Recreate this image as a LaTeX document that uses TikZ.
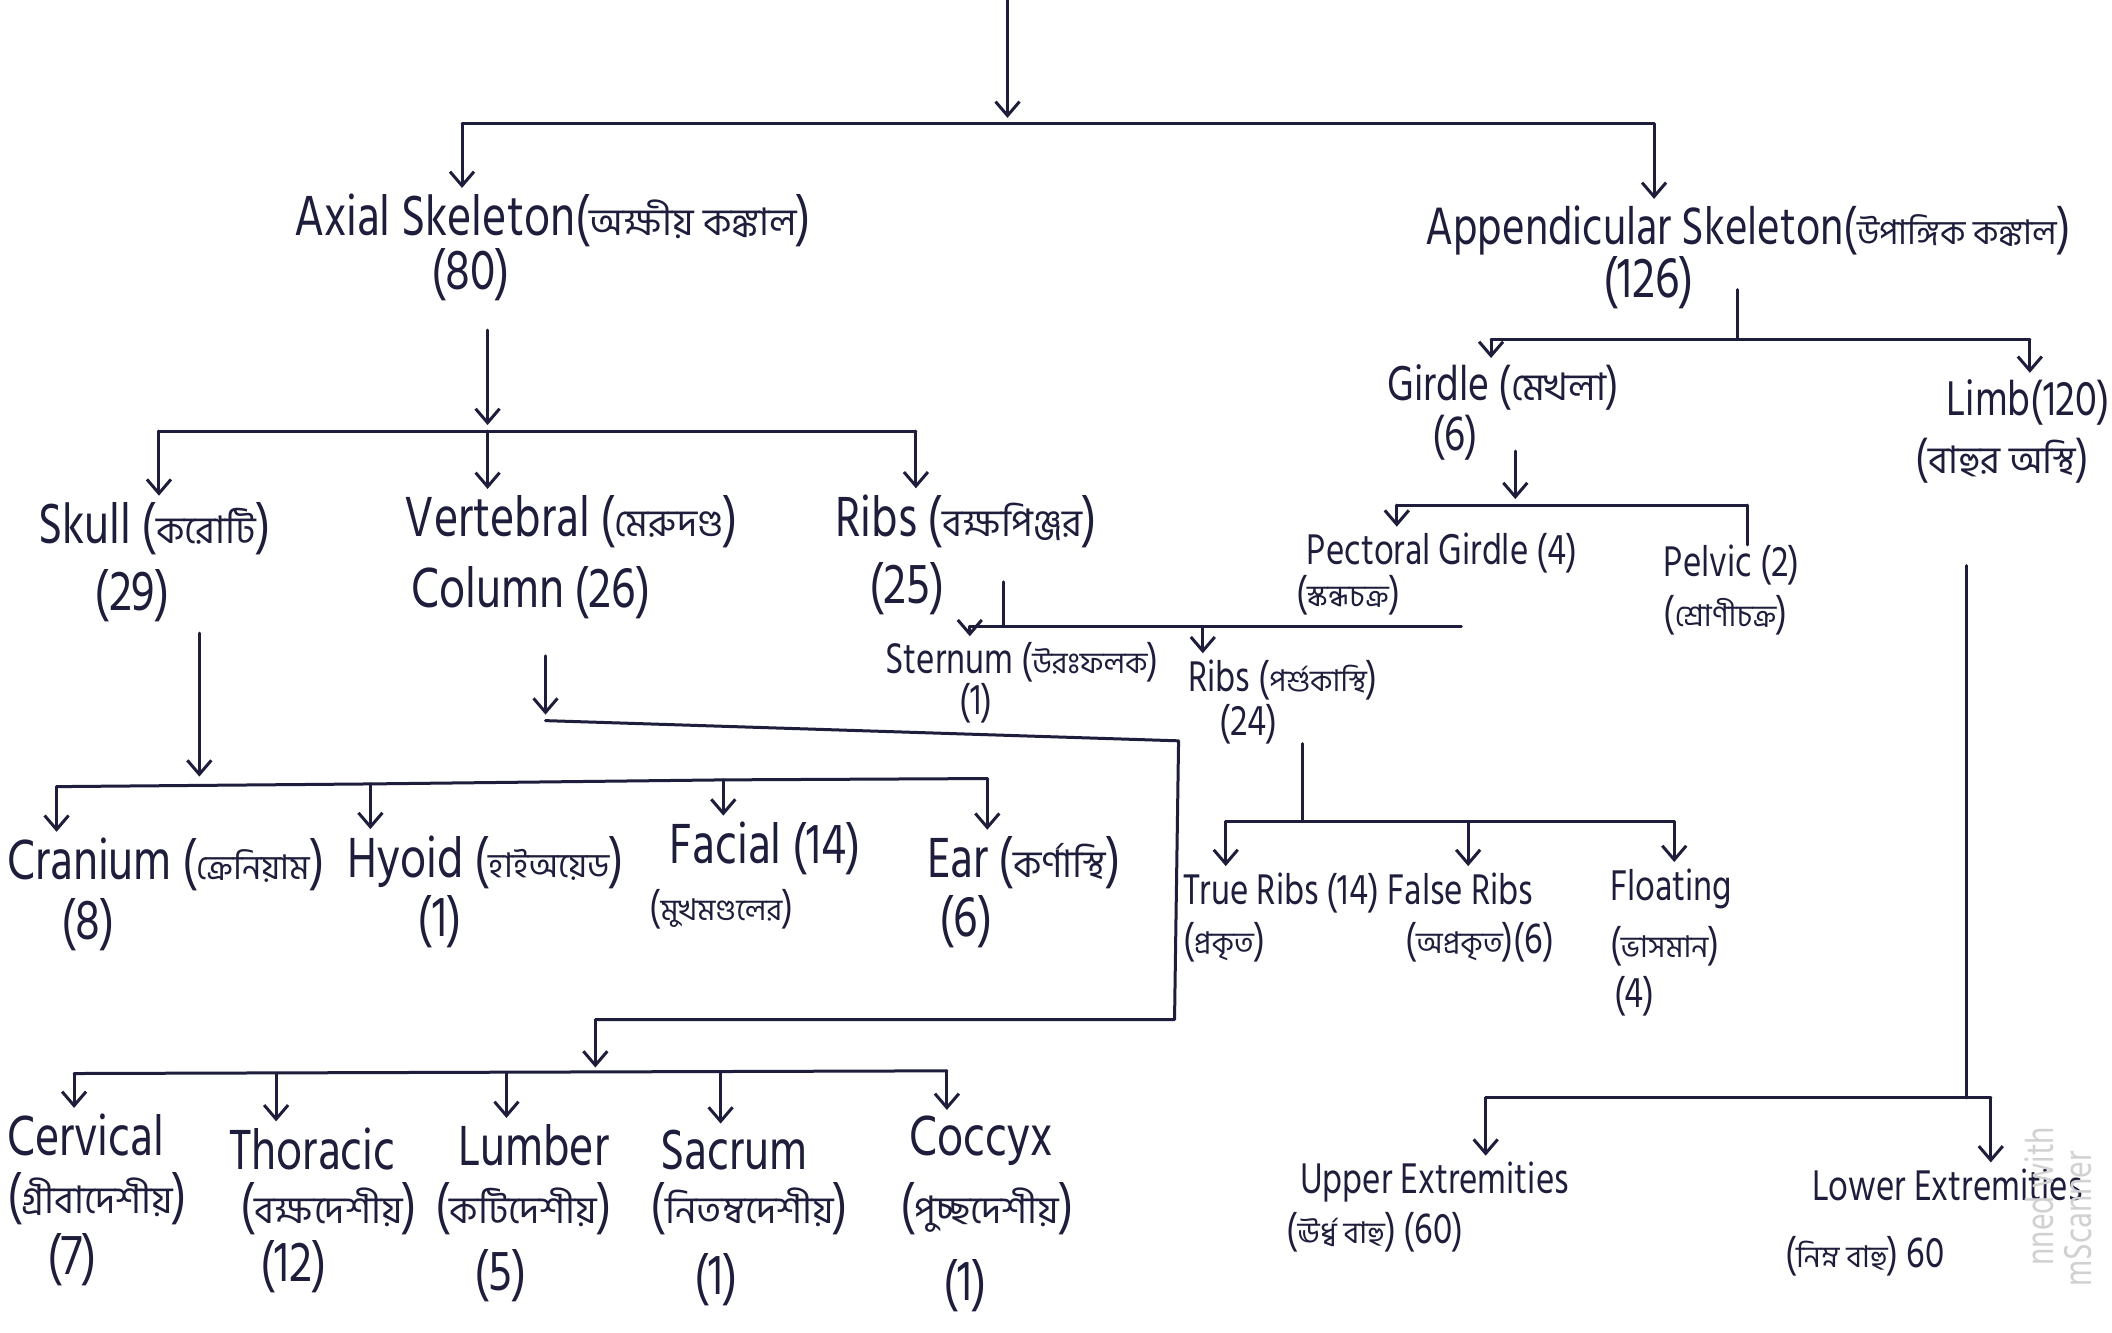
\documentclass[tikz,border=0pt]{standalone}
\usepackage{fontspec}
\newfontfamily\latf[FakeStretch=0.8]{Hind Siliguri}
\newfontfamily\bnf[Script=Bengali]{Hind Siliguri}
\usetikzlibrary{arrows.meta}
\definecolor{ink}{HTML}{1E1E3C}
\newcommand{\bng}[1]{{\bnf\fontsize{19}{22}\selectfont #1}}
\newcommand{\bnm}[1]{{\bnf\fontsize{17}{20}\selectfont #1}}
\newcommand{\bns}[1]{{\bnf\fontsize{15}{18}\selectfont #1}}
\tikzset{
  lab/.style={anchor=mid west, inner sep=0pt, text=ink, font=\latf\fontsize{29}{32}\selectfont},
  labm/.style={lab, font=\latf\fontsize{27}{30}\selectfont},
  labs/.style={lab, font=\latf\fontsize{25}{28}\selectfont},
  labt/.style={lab, font=\latf\fontsize{22}{25}\selectfont},
  wmark/.style={rotate=90, text=black!18, font=\latf\fontsize{20}{22}\selectfont},
  ln/.style={draw=ink, line width=1.5pt, line cap=round, line join=round},
  ar/.style={ln, shorten >=3pt, -{Straight Barb[length=7pt,width=12pt,line width=1.5pt]}},
}
\begin{document}
\begin{tikzpicture}[x=0.6735pt,y=-0.6735pt]
\fill[white] (0,0) rectangle (1568,989);
\useasboundingbox (0,0) rectangle (1568,989);

% ---- nodes ----
\node[lab] (axial) at (218,172) {Axial Skeleton(\bng{অক্ষীয় কঙ্কাল})};
\node[lab] (axialn) at (320,212) {(80)};
\node[labm] (app) at (1058,178) {Appendicular Skeleton(\bnm{উপাঙ্গিক কঙ্কাল})};
\node[lab] (appn) at (1190,218) {(126)};

\node[lab] (skull) at (28,400) {Skull (\bng{করোটি})};
\node[lab] (skulln) at (70,450) {(29)};
\node[lab] (vert) at (300,395) {Vertebral (\bng{মেরুদণ্ড})};
\node[lab] (vertb) at (305,448) {Column (26)};
\node[lab] (ribs) at (620,395) {Ribs (\bng{বক্ষপিঞ্জর})};
\node[lab] (ribsn) at (645,445) {(25)};

\node[labs] (girdle) at (1030,294) {Girdle (\bng{মেখলা})};
\node[labs] (girdlen) at (1063,331) {(6)};
\node[labs] (limb) at (1445,305) {Limb(120)};
\node[labs] (limbb) at (1422,348) {(\bng{বাহুর অস্থি})};

\node[labt] (pect) at (970,416) {Pectoral Girdle (4)};
\node[labt] (pectb) at (962,447) {(\bns{স্কন্ধচক্র})};
\node[labt] (pelv) at (1235,425) {Pelvic (2)};
\node[labt] (pelvb) at (1235,462) {(\bns{শ্রোণীচক্র})};

\node[labt] (stern) at (657,497) {Sternum (\bns{উরঃফলক})};
\node[labt] (sternn) at (712,527) {(1)};
\node[labt] (ribsb) at (882,510) {Ribs (\bns{পর্শুকাস্থি})};
\node[labt] (ribsbn) at (905,543) {(24)};

\node[labt] (trueR) at (878,668) {True Ribs (14)};
\node[labt] (trueRb) at (878,705) {(\bns{প্রকৃত})};
\node[labt] (falseR) at (1030,668) {False Ribs};
\node[labt] (falseRb) at (1043,705) {(\bns{অপ্রকৃত})(6)};
\node[labt] (float) at (1195,665) {Floating};
\node[labt] (floatb) at (1195,708) {(\bns{ভাসমান})};
\node[labt] (floatn) at (1198,745) {(4)};

\node[lab] (cran) at (5,650) {Cranium (\bnm{ক্রেনিয়াম})};
\node[lab] (crann) at (45,694) {(8)};
\node[lab] (hyoid) at (258,648) {Hyoid (\bnm{হাইঅয়েড})};
\node[lab] (hyoidn) at (310,692) {(1)};
\node[lab] (facial) at (497,638) {Facial (14)};
\node[labt] (facialb) at (482,680) {(\bns{মুখমণ্ডলের})};
\node[lab] (ear) at (688,648) {Ear (\bng{কর্ণাস্থি})};
\node[lab] (earn) at (697,692) {(6)};

\node[lab] (cerv) at (5,855) {Cervical};
\node[lab] (cervb) at (5,898) {(\bng{গ্রীবাদেশীয়})};
\node[lab] (cervn) at (35,943) {(7)};
\node[lab] (thor) at (170,865) {Thoracic};
\node[lab] (thorb) at (178,905) {(\bng{বক্ষদেশীয়})};
\node[lab] (thorn) at (193,948) {(12)};
\node[lab] (lumb) at (340,862) {Lumber};
\node[lab] (lumbb) at (323,905) {(\bng{কটিদেশীয়})};
\node[lab] (lumbn) at (352,955) {(5)};
\node[lab] (sacr) at (490,865) {Sacrum};
\node[lab] (sacrb) at (483,905) {(\bng{নিতম্বদেশীয়})};
\node[lab] (sacrn) at (515,958) {(1)};
\node[lab] (cocc) at (675,855) {Coccyx};
\node[lab] (coccb) at (668,905) {(\bng{পুচ্ছদেশীয়})};
\node[lab] (coccn) at (700,962) {(1)};

\node[labt] (upper) at (965,883) {Upper Extremities};
\node[labt] (upperb) at (955,920) {(\bns{ঊর্ধ্ব বাহু}) (60)};
\node[labt] (lower) at (1345,888) {Lower Extremities};
\node[labt] (lowerb) at (1325,938) {(\bns{নিম্ন বাহু}) 60};

\node[wmark] (wm1) at (1514,888) {nned with};
\node[wmark] (wm2) at (1543,905) {mScanner};

% ---- coordinates ----
\coordinate (top) at (748,0);
\coordinate (b1M) at (748,92);
\coordinate (b1L) at (343,92);
\coordinate (b1R) at (1228,92);
\coordinate (ax0) at (362,245);
\coordinate (b2M) at (362,320);
\coordinate (b2L) at (118,320);
\coordinate (b2R) at (680,320);
\coordinate (ap0) at (1290,215);
\coordinate (b3M) at (1290,252);
\coordinate (b3L) at (1107,252);
\coordinate (b3R) at (1507,252);
\coordinate (gi0) at (1125,335);
\coordinate (b4M) at (1125,375);
\coordinate (b4L) at (1037,375);
\coordinate (b4R) at (1297,375);
\coordinate (ri0) at (745,432);
\coordinate (b5M) at (745,465);
\coordinate (b5L) at (720,465);
\coordinate (b5A) at (893,465);
\coordinate (b5R) at (1085,465);
\coordinate (rb0) at (967,552);
\coordinate (b6M) at (967,610);
\coordinate (b6L) at (910,610);
\coordinate (b6A) at (1090,610);
\coordinate (b6R) at (1243,610);
\coordinate (sk0) at (148,470);
\coordinate (b7M) at (148,581);
\coordinate (b7L) at (42,584);
\coordinate (b7A) at (275,582);
\coordinate (b7B) at (537,579);
\coordinate (b7R) at (733,578);
\coordinate (ve0) at (405,487);
\coordinate (ve1) at (405,535);
\coordinate (ve2) at (875,550);
\coordinate (ve3) at (872,757);
\coordinate (ve4) at (442,757);
\coordinate (b8M) at (442,797);
\coordinate (b8L) at (55,797);
\coordinate (b8A) at (205,797);
\coordinate (b8B) at (376,797);
\coordinate (b8C) at (535,796);
\coordinate (b8R) at (703,795);
\coordinate (li0) at (1460,420);
\coordinate (b9M) at (1460,815);
\coordinate (b9L) at (1103,815);
\coordinate (b9R) at (1478,815);

% ---- connectors ----
\draw[ar] (top) -- (b1M);
\draw[ln] (b1L) -- (b1R);
\draw[ar] (b1L) -- (b1L |- axial.north);
\draw[ar] (b1R) -- (b1R |- app.north);

\draw[ar] (ax0) -- (b2M);
\draw[ln] (b2L) -- (b2R);
\draw[ar] (b2L) -- (b2L |- skull.north);
\draw[ar] (b2M) -- (b2M |- vert.north);
\draw[ar] (b2R) -- (b2R |- ribs.north);

\draw[ln] (ap0) -- (b3M);
\draw[ln] (b3L) -- (b3R);
\draw[ar] (b3L) -- (b3L |- girdle.north);
\draw[ar] (b3R) -- (b3R |- limb.north);

\draw[ar] (gi0) -- (b4M);
\draw[ln] (b4L) -- (b4R);
\draw[ar] (b4L) -- (b4L |- pect.north);
\draw[ln] (b4R) -- (b4R |- pelv.north);

\draw[ln] (ri0) -- (b5M);
\draw[ln] (b5L) -- (b5R);
\draw[ar] (b5L) -- (b5L |- stern.north);
\draw[ar] (b5A) -- (b5A |- ribsb.north);

\draw[ln] (rb0) -- (b6M);
\draw[ln] (b6L) -- (b6R);
\draw[ar] (b6L) -- (b6L |- trueR.north);
\draw[ar] (b6A) -- (b6A |- falseR.north);
\draw[ar] (b6R) -- (b6R |- float.north);

\draw[ar] (sk0) -- (b7M);
\draw[ln] (b7L) -- (b7A) -- (b7B) -- (b7R);
\draw[ar] (b7L) -- (b7L |- cran.north);
\draw[ar] (b7A) -- (b7A |- hyoid.north);
\draw[ar] (b7B) -- (b7B |- facial.north);
\draw[ar] (b7R) -- (b7R |- ear.north);

\draw[ar] (ve0) -- (ve1);
\draw[ln] (ve1) -- (ve2) -- (ve3) -- (ve4);
\draw[ar] (ve4) -- (b8M);
\draw[ln] (b8L) -- (b8R);
\draw[ar] (b8L) -- (b8L |- cerv.north);
\draw[ar] (b8A) -- (b8A |- thor.north);
\draw[ar] (b8B) -- (b8B |- lumb.north);
\draw[ar] (b8C) -- (b8C |- sacr.north);
\draw[ar] (b8R) -- (b8R |- cocc.north);

\draw[ln] (li0) -- (b9M);
\draw[ln] (b9L) -- (b9R);
\draw[ar] (b9L) -- (b9L |- upper.north);
\draw[ar] (b9R) -- (b9R |- lower.north);
\end{tikzpicture}
\end{document}
